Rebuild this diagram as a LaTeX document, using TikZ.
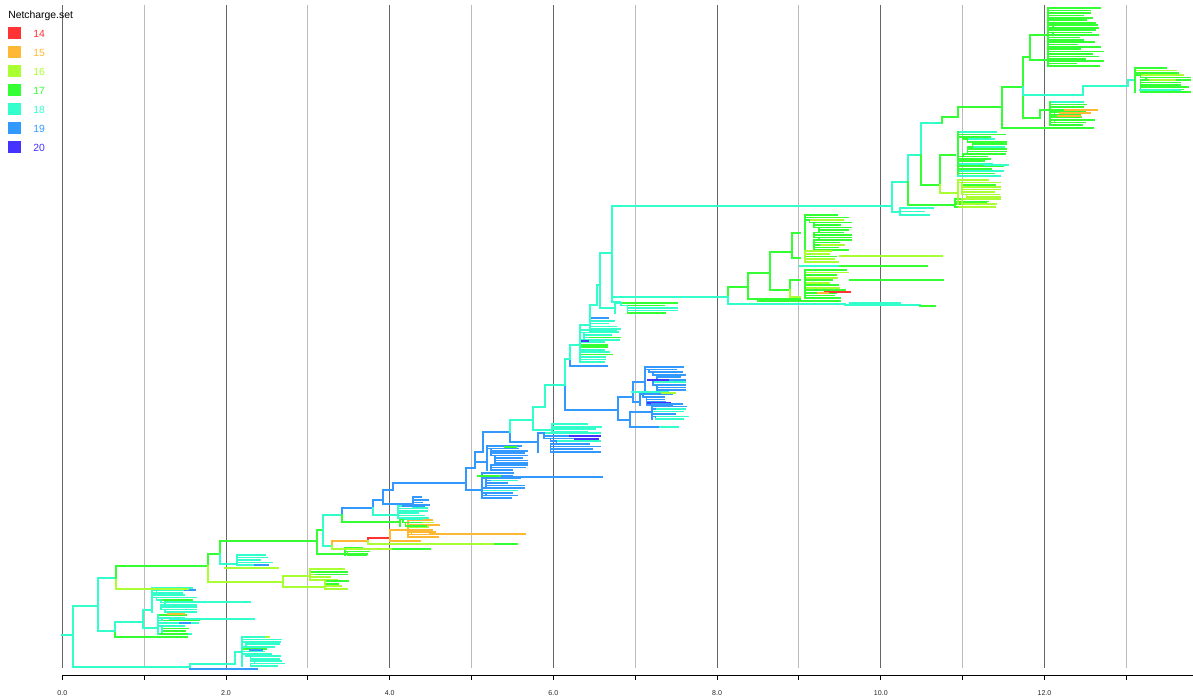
\documentclass[tikz,border=0pt]{standalone}
\usepackage{fontspec}
\setmainfont{Liberation Sans}
\definecolor{n14}{HTML}{FF3333}
\definecolor{n15}{HTML}{FFB833}
\definecolor{n16}{HTML}{AAFF33}
\definecolor{n17}{HTML}{33FF33}
\definecolor{n18}{HTML}{33FFCC}
\definecolor{n19}{HTML}{3399FF}
\definecolor{n20}{HTML}{4433FF}
\definecolor{gdark}{HTML}{666666}
\definecolor{glight}{HTML}{BBBBBB}
\tikzset{tr/.style={line width=1.3pt,line cap=rect,line join=miter},
  lab/.style={inner sep=0pt,font=\fontsize{5.3}{6}\selectfont,text=black!85},
  leg/.style={inner sep=0pt,anchor=west,font=\fontsize{7.8}{9}\selectfont}}
\newcommand\tedge[5]{\draw[tr,draw=#1] (#2,#3) |- (#4,#5);}
\newcommand\tln[4]{\draw[tr,draw=#1] (#2,#4) -- (#3,#4);}
\newcommand\bush[6]{%
  \pgfmathtruncatemacro\bkN{max(1,(#5-#4)/2.4)}%
  \pgfmathsetmacro\bkD{(#5-#4)/\bkN}%
  \draw[tr,draw=#1] (#3,#4) -- (#3,#5);
  \xdef\bkPX{#3}%
  \foreach \bki in {0,...,\bkN}{%
    \pgfmathsetmacro\bkY{#4+\bki*\bkD}%
    \pgfmathsetmacro\bkP{max(#4,\bkY-\bkD)}%
    \pgfmathsetmacro\bkS{rnd}%
    \pgfmathsetmacro\bkX{max(#3,min(#3+0.3*#6,\bkPX+(int(rnd*3)-1)*0.1*#6))}%
    \pgfmathsetmacro\bkM{min(\bkX,\bkPX)}%
    \pgfmathsetmacro\bkE{min(#3+#6,\bkX+(0.5+0.5*rnd)*#6)}%
    \ifdim\bkS pt<0.2pt\def\bkC{#2}\else\def\bkC{#1}\fi
    \draw[tr,draw=#1] (\bkPX,\bkP) -- (\bkM,\bkP) -- (\bkM,\bkY) -- (\bkX,\bkY);
    \draw[tr,draw=\bkC] (\bkX,\bkY) -- (\bkE,\bkY);
    \xdef\bkPX{\bkX}%
  }%
}
\begin{document}
\begin{tikzpicture}[x=0.75pt,y=-0.75pt]
\pgfmathsetseed{7}
\useasboundingbox (0,0) rectangle (1193,699);
\fill[white] (0,0) rectangle (1193,699);
% grid
\foreach \u in {0,2,...,12}{\draw[gdark,line width=0.75pt] ({62.3+81.85*\u},5) -- ({62.3+81.85*\u},668);}
\foreach \u in {1,3,...,13}{\draw[glight,line width=0.75pt] ({62.3+81.85*\u},5) -- ({62.3+81.85*\u},668);}
% axis
\draw[black,line width=0.75pt] (62,675.5) -- (1193,675.5);
\foreach \u in {0,...,13}{\draw[black,line width=0.75pt] ({62.3+81.85*\u},675.5) -- ({62.3+81.85*\u},680);}
\foreach \u in {0,2,...,12}{\node[lab] (ax\u) at ({62.3+81.85*\u},693) {\u.0};}
% legend
\node[leg,anchor=base west] (ttl) at (8,18.5) {Netcharge.set};
\foreach \c/\yy in {14/33,15/52,16/71,17/90,18/109,19/128,20/147}{
  \fill[n\c] (8,\yy-6) rectangle (21,\yy+6);
  \node[leg,text=n\c] (lg\c) at (33,\yy+0.5) {\c};
}
% ---------------- tree ----------------
\tln{n18}{62}{73}{635}
\tedge{n18}{73}{635}{190}{667}
\tedge{n18}{73}{635}{98}{606}
% bottom clade
\tedge{n19}{190}{667}{257}{669}
\tedge{n18}{190}{667}{235}{664}
\tedge{n18}{235}{664}{242}{652}
\bush{n18}{n17}{242}{637}{666}{42}
\tln{n19}{250}{262}{650}
\tln{n16}{266}{269}{637}
% node 98
\tedge{n18}{98}{606}{115}{631}
\tedge{n17}{115}{631}{187}{637}
\tedge{n18}{115}{631}{143}{622}
\tedge{n18}{143}{622}{150}{610}
\tedge{n18}{143}{622}{158}{628}
\bush{n18}{n17}{152}{588}{612}{44}
\bush{n18}{n17}{158}{615}{634}{42}
\tln{n18}{165}{250}{602}
\tln{n18}{170}{254}{619}
\tln{n15}{168}{184}{614}
\tln{n19}{185}{195}{590}
\tln{n19}{180}{190}{623}
\tln{n17}{160}{187}{634}
% node 116
\tedge{n18}{98}{606}{116}{578}
\tedge{n16}{116}{578}{188}{589}
\tedge{n17}{116}{578}{208}{566}
\tedge{n17}{208}{566}{220}{554}
\tedge{n16}{208}{566}{283}{582}
\tedge{n16}{283}{582}{310}{576}
\tedge{n16}{283}{582}{325}{587}
\bush{n16}{n17}{310}{569}{580}{40}
\bush{n16}{n17}{325}{581}{589}{24}
\tedge{n17}{220}{554}{317}{541}
\tedge{n18}{220}{554}{237}{564}
\bush{n18}{n18}{237}{555}{565}{38}
\tln{n16}{225}{278}{568}
\tln{n19}{255}{268}{565}
% node C
\tedge{n17}{317}{541}{323}{530}
\tedge{n17}{317}{541}{367}{554}
\bush{n17}{n17}{345}{548}{555}{24}
% node D
\tedge{n18}{323}{530}{342}{515}
\tedge{n18}{323}{530}{332}{546}
\tedge{n15}{332}{546}{368}{541}
\tedge{n16}{332}{546}{393}{549}
\tln{n17}{393}{430}{549}
\tedge{n14}{368}{541}{390}{538}
\tedge{n16}{368}{541}{495}{544}
\tln{n17}{495}{517}{544}
\tedge{n15}{390}{538}{408}{530}
\bush{n15}{n16}{408}{520}{537}{36}
\tln{n15}{430}{525}{534}
\tedge{n15}{390}{538}{420}{541}
% node E
\tedge{n19}{342}{515}{373}{508}
\tedge{n17}{342}{515}{400}{522}
\bush{n17}{n18}{400}{519}{526}{28}
% node F
\tedge{n19}{373}{508}{383}{500}
\tedge{n18}{373}{508}{398}{515}
\bush{n18}{n19}{398}{506}{518}{32}
\tedge{n19}{383}{500}{393}{490}
\tedge{n19}{383}{500}{413}{504}
\bush{n19}{n18}{413}{497}{508}{16}
\tedge{n19}{393}{490}{466}{483}
% node N1
\tedge{n19}{466}{483}{480}{490}
\bush{n19}{n18}{482}{473}{498}{42}
\tln{n19}{482}{602}{477}
\tln{n17}{478}{500}{476}
\tedge{n19}{466}{483}{475}{468}
\tedge{n19}{475}{468}{483}{452}
\tedge{n19}{475}{468}{487}{462}
\bush{n19}{n19}{487}{446}{470}{40}
\tln{n17}{505}{516}{447}
\tedge{n19}{483}{452}{510}{432}
% node 510
\tedge{n19}{510}{432}{538}{442}
\bush{n19}{n18}{538}{433}{452}{62}
\tln{n20}{570}{600}{436}
\tln{n20}{575}{598}{439}
\tedge{n18}{510}{432}{533}{420}
\tedge{n18}{533}{420}{545}{407}
\tedge{n18}{533}{420}{552}{430}
\bush{n18}{n19}{552}{424}{432}{52}
\tedge{n18}{545}{407}{565}{385}
% node 565
\tedge{n19}{565}{385}{618}{410}
\tedge{n18}{565}{385}{570}{359}
\tedge{n19}{618}{410}{633}{397}
\tedge{n19}{618}{410}{630}{420}
\tedge{n19}{633}{397}{645}{382}
\bush{n19}{n18}{645}{367}{390}{40}
\tln{n20}{648}{668}{380}
\tedge{n19}{633}{397}{640}{402}
\bush{n19}{n18}{640}{394}{405}{32}
\tln{n18}{632}{668}{392}
\tln{n16}{662}{675}{393}
\tln{n20}{648}{670}{403}
\tedge{n19}{630}{420}{652}{412}
\bush{n19}{n18}{652}{404}{419}{36}
\tedge{n19}{630}{420}{660}{427}
\tln{n18}{660}{678}{427}
% node 570 (cyan stack)
\tedge{n19}{570}{359}{607}{366}
\tedge{n18}{570}{359}{580}{345}
\bush{n18}{n17}{580}{330}{362}{40}
\tln{n20}{582}{588}{341}
\tedge{n18}{580}{345}{590}{325}
\bush{n18}{n19}{590}{318}{332}{32}
\tedge{n18}{590}{325}{597}{305}
\tedge{n18}{597}{305}{600}{285}
\tedge{n18}{600}{285}{615}{308}
\bush{n18}{n17}{615}{303}{313}{62}
\tedge{n18}{600}{285}{612}{253}
% node 612
\tedge{n18}{612}{253}{892}{206}
\tedge{n18}{612}{253}{728}{297}
\tedge{n18}{612}{253}{620}{302}
% node 728
\tedge{n17}{728}{297}{748}{287}
\tedge{n18}{728}{297}{845}{304}
\tln{n18}{845}{920}{305}
\tln{n17}{920}{935}{306}
\tln{n18}{850}{900}{303}
\tln{n17}{758}{840}{301}
\tedge{n17}{748}{287}{770}{273}
\tedge{n17}{748}{287}{800}{299}
\tedge{n17}{770}{273}{792}{252}
\tedge{n17}{770}{273}{790}{290}
\tedge{n17}{792}{252}{800}{233}
\tedge{n17}{792}{252}{800}{258}
\bush{n17}{n16}{805}{215}{250}{46}
\bush{n16}{n17}{805}{251}{262}{42}
\tln{n16}{840}{942}{256}
\tln{n18}{800}{840}{266}
\tln{n17}{840}{927}{266}
\tedge{n17}{790}{290}{800}{280}
\tedge{n16}{790}{290}{800}{297}
\bush{n17}{n16}{805}{270}{298}{46}
\tln{n17}{850}{943}{280}
\tln{n14}{825}{850}{292}
\tln{n15}{818}{828}{293}
% node 892
\tedge{n18}{892}{206}{908}{182}
\tedge{n18}{892}{206}{900}{212}
\bush{n18}{n18}{900}{208}{215}{47}
\tedge{n18}{908}{182}{921}{155}
\tedge{n17}{908}{182}{955}{205}
\bush{n17}{n16}{955}{199}{207}{40}
\tedge{n18}{921}{155}{942}{123}
\tedge{n17}{921}{155}{940}{185}
\tedge{n17}{940}{185}{955}{155}
\bush{n17}{n18}{958}{132}{176}{48}
\tedge{n16}{940}{185}{958}{193}
\bush{n16}{n17}{958}{180}{204}{42}
\tln{n18}{985}{1008}{165}
\tedge{n17}{942}{123}{958}{117}
\tedge{n17}{958}{117}{1002}{107}
\tedge{n17}{1002}{107}{1010}{128}
\tln{n17}{1002}{1093}{128}
\tedge{n17}{1002}{107}{1023}{87}
\tedge{n17}{1023}{87}{1040}{118}
\tedge{n17}{1023}{87}{1030}{57}
\tedge{n17}{1030}{57}{1048}{35}
\tedge{n17}{1030}{57}{1048}{60}
\bush{n17}{n17}{1048}{8}{40}{52}
\bush{n17}{n18}{1048}{42}{66}{55}
\tedge{n17}{1040}{118}{1050}{110}
\bush{n17}{n18}{1050}{102}{125}{46}
\tln{n15}{1065}{1097}{110}
\tln{n15}{1060}{1090}{113}
\tln{n15}{1058}{1080}{116}
\tedge{n18}{1023}{87}{1083}{95}
\tedge{n18}{1083}{95}{1128}{86}
\tedge{n18}{1128}{86}{1135}{80}
\bush{n17}{n16}{1135}{68}{92}{55}
\tln{n18}{1140}{1180}{90}
\tln{n16}{1150}{1175}{80}
\end{tikzpicture}
\end{document}
